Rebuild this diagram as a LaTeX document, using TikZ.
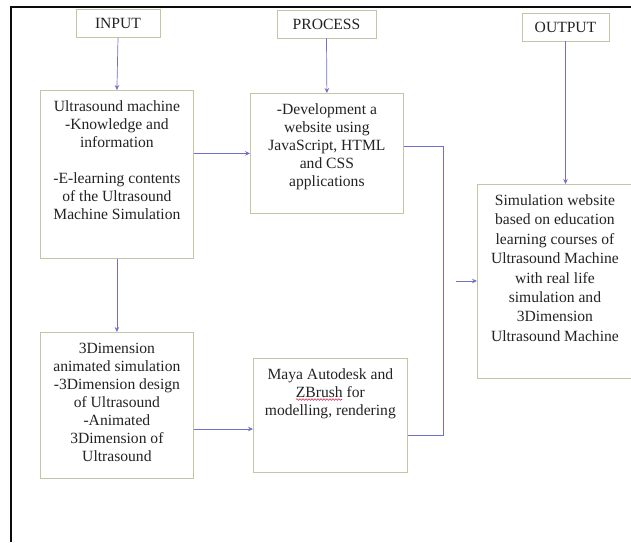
\documentclass[tikz,border=0pt]{standalone}
\usepackage{fontspec}
\setmainfont{Liberation Serif}
\usetikzlibrary{arrows.meta,decorations.pathmorphing}
\definecolor{frameline}{RGB}{12,12,12}
\definecolor{boxline}{RGB}{196,196,166}
\definecolor{flow}{RGB}{112,112,200}
\definecolor{ink}{RGB}{35,35,35}
\definecolor{spell}{RGB}{222,40,70}

\begin{document}
\begin{tikzpicture}[x=1pt,y=-1pt,
  box/.style={draw=boxline,line width=0.8pt,fill=white,inner sep=0pt,anchor=north west},
  txt/.style={text=ink,font=\fontsize{15.6}{18}\selectfont,align=center,inner sep=0pt,anchor=north},
  head/.style={draw=boxline,line width=0.8pt,text=ink,font=\fontsize{15.6}{18}\selectfont,inner sep=0pt,minimum height=28pt},
  flowline/.style={draw=flow,line width=0.7pt},
  arr/.style={flowline,-{Stealth[length=5pt,width=4.5pt]}}]

\useasboundingbox (0,0) rectangle (631,542);

% page frame
\draw[frameline,line width=2.2pt,line join=miter] (11,542) -- (11,7.3) -- (631,7.3);

% column headers
\node[head,minimum width=84pt] (hin)  at (118,23.5)  {INPUT};
\node[head,minimum width=99pt] (hpr)  at (326.5,24) {PROCESS};
\node[head,minimum width=87pt] (hout) at (565.5,27) {OUTPUT};

% boxes
\node[box,minimum width=153pt,minimum height=168pt] (b1) at (40,90) {};
\node[box,minimum width=153pt,minimum height=120pt] (b2) at (250,93) {};
\node[box,minimum width=153pt,minimum height=146pt] (b3) at (40,332) {};
\node[box,minimum width=154pt,minimum height=114pt] (b4) at (253,358) {};
\node[box,minimum width=155pt,minimum height=194pt] (b5) at (477,184) {};

% box texts
\node[txt] (t1) at ([yshift=-10.5pt]b1.north) {Ultrasound machine\\-Knowledge and\\information\\[18pt]-E-learning contents\\of the Ultrasound\\Machine Simulation};
\node[txt] (t2) at ([yshift=-10.5pt]b2.north) {-Development a\\website using\\JavaScript, HTML\\and CSS\\applications};
\node[txt] (t3) at ([yshift=-10.5pt]b3.north) {3Dimension\\animated simulation\\-3Dimension design\\of Ultrasound\\-Animated\\3Dimension of\\Ultrasound};
\node[txt] (t4) at ([yshift=-10.5pt]b4.north) {Maya Autodesk and\\ZBrush for\\modelling, rendering};
\node[txt,font=\fontsize{15.6}{19.4}\selectfont] (t5) at ([yshift=-10.5pt]b5.north) {Simulation website\\based on education\\learning courses of\\Ultrasound Machine\\with real life\\simulation and\\3Dimension\\Ultrasound Machine};

% spell-check squiggle under ZBrush
\draw[spell,line width=0.6pt,decorate,decoration={snake,amplitude=0.8pt,segment length=3pt}] (296,399.5) -- (342,399.5);

% connectors
\draw[arr] (hin.south) -- (b1.north);
\draw[arr] (hpr.south) -- (b2.north);
\draw[arr] (hout.south) -- (hout.south |- b5.north);
\draw[arr] (b1.east |- b2.west) -- (b2.west);
\draw[arr] (b1.south) -- (b3.north);
\coordinate (m34) at (220,429);
\draw[arr] (m34 -| b3.east) -- (m34 -| b4.west);
\coordinate (jt) at (443,146);
\coordinate (jb) at (443,435);
\draw[flowline] (jt -| b2.east) -- (jt) -- (jb) -- (jb -| b4.east);
\coordinate (ja) at (456,281);
\draw[arr] (ja) -- (ja -| b5.west);
\end{tikzpicture}
\end{document}
